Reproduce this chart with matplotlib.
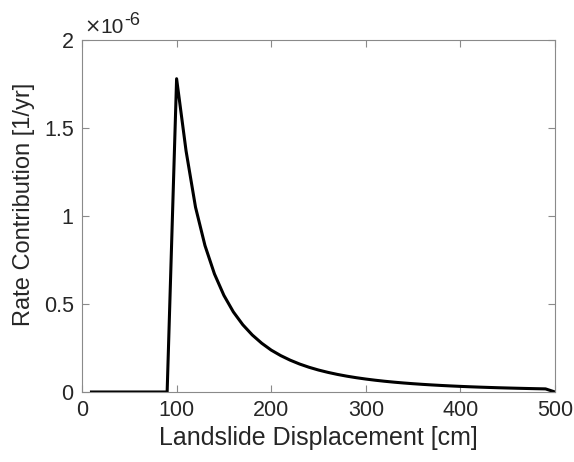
import matplotlib
matplotlib.use("Agg")
import matplotlib.pyplot as plt
from matplotlib.ticker import FuncFormatter
import numpy as np

plt.rcParams['font.family'] = ['Liberation Sans', 'DejaVu Sans']

# displacement [cm] and rate contribution [1/yr]
displacement = np.arange(10, 510, 10)
rate = np.array([
    0, 0, 0, 0, 0, 0, 0, 0, 0,
    1.78, 1.37, 1.05, 0.832, 0.671, 0.549, 0.455, 0.382, 0.324, 0.277,
    0.238, 0.207, 0.181, 0.159, 0.1405, 0.1248, 0.1115, 0.0999, 0.0899, 0.0812,
    0.0736, 0.0669, 0.0610, 0.0558, 0.0512, 0.0471, 0.0434, 0.0401, 0.0371, 0.0344,
    0.0319, 0.0297, 0.0277, 0.0259, 0.0242, 0.0227, 0.0213, 0.0200, 0.0188, 0.0177,
    0.0]) * 1e-6

xticks = [0, 100, 200, 300, 400, 500]
yticks = [0, 0.5e-6, 1e-6, 1.5e-6, 2e-6]

axcol = '#8a8a8a'
txtcol = '#262626'

W, H = 574, 462
fig = plt.figure(figsize=(W / 100, H / 100), dpi=100)
ax = fig.add_axes([82 / W, (H - 392) / H, (555 - 82) / W, (392 - 40) / H])
ax.plot(displacement, rate, color='black', lw=2.2)

ax.set_xlim(0, 500)
ax.set_ylim(0, 2e-6)
ax.set_xticks(xticks)
ax.set_yticks(yticks)
ax.yaxis.set_major_formatter(FuncFormatter(lambda v, p: f"{v*1e6:g}"))

for s in ax.spines.values():
    s.set_color(axcol)
    s.set_linewidth(0.8)
ax.tick_params(direction='in', top=True, right=True, length=5, width=0.8,
               color=axcol, labelsize=15.5, labelcolor=txtcol, pad=6)

ax.set_xlabel('Landslide Displacement [cm]', fontsize=18, color=txtcol, labelpad=3)
ax.set_ylabel('Rate Contribution [1/yr]', fontsize=17, color=txtcol)
ax.yaxis.set_label_coords(-0.10, 0.534)

# MATLAB style exponent label
fig.text(84 / W, (H - 33) / H, '\u00d7', fontsize=14, color=txtcol,
         ha='left', va='baseline', family='DejaVu Sans')
fig.text(100 / W, (H - 33) / H, '10', fontsize=15, color=txtcol,
         ha='left', va='baseline')
fig.text(124 / W, (H - 25) / H, '-6', fontsize=13, color=txtcol,
         ha='left', va='baseline')

fig.savefig('out.png', dpi=100, facecolor='white')
